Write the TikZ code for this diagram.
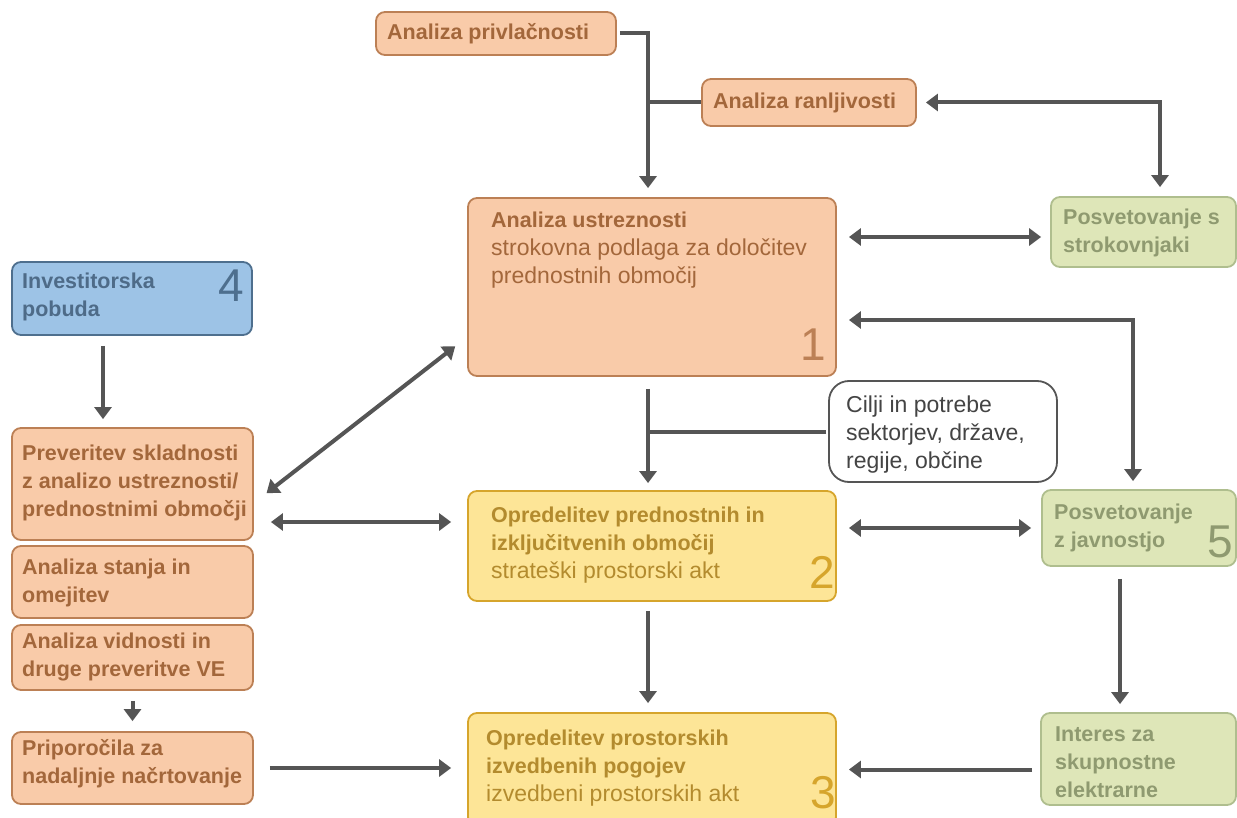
\documentclass[tikz,border=0pt]{standalone}
\usepackage{fontspec}
\setmainfont{Liberation Sans}
\usetikzlibrary{arrows.meta,calc}
\definecolor{ofill}{HTML}{F9CBA9}
\definecolor{odraw}{HTML}{BC8055}
\definecolor{otext}{HTML}{A3673B}
\definecolor{yfill}{HTML}{FDE597}
\definecolor{ydraw}{HTML}{D6A52C}
\definecolor{ytext}{HTML}{B38B2E}
\definecolor{gfill}{HTML}{DEE6B8}
\definecolor{gdraw}{HTML}{AFBE8E}
\definecolor{gtext}{HTML}{8F9A70}
\definecolor{bfill}{HTML}{9DC3E6}
\definecolor{bdraw}{HTML}{4E6F8E}
\definecolor{btext}{HTML}{4E6B88}
\definecolor{agray}{HTML}{555555}
\definecolor{ctext}{HTML}{444444}
\begin{document}
\begin{tikzpicture}[x=1pt,y=-1pt,
  box/.style={draw, rounded corners=9pt, line width=1.8pt, inner sep=0pt},
  obox/.style={box, fill=ofill, draw=odraw},
  ybox/.style={box, fill=yfill, draw=ydraw},
  gbox/.style={box, fill=gfill, draw=gdraw},
  bbox/.style={box, fill=bfill, draw=bdraw},
  cbox/.style={box, fill=white, draw=agray, rounded corners=20pt},
  lbl/.style={anchor=west, align=left, inner sep=0pt, font=\fontsize{21.5}{28}\selectfont\bfseries},
  reg/.style={anchor=west, align=left, inner sep=0pt, font=\fontsize{23}{28}\selectfont},
  num/.style={anchor=base east, inner sep=0pt, font=\fontsize{46}{46}\selectfont},
  ln/.style={draw=agray, line width=4pt},
  arr/.style={ln, -{Triangle[length=12pt,width=17pt]}},
  dbl/.style={ln, {Triangle[length=12pt,width=17pt]}-{Triangle[length=12pt,width=17pt]}}
]
\useasboundingbox (0,0) rectangle (1237,818);
\begin{scope}
\clip (0,0) rectangle (1237,818);
% boxes
\node[obox, minimum width=240pt, minimum height=43pt] (priv) at (496,33.5) {};
\node[obox, minimum width=214pt, minimum height=47pt] (ranl) at (809,102.5) {};
\node[obox, minimum width=368pt, minimum height=178pt] (box1) at (652,287) {};
\node[gbox, minimum width=185pt, minimum height=70pt] (strok) at (1143.5,232) {};
\node[bbox, minimum width=240pt, minimum height=73pt] (inv) at (132,298.5) {};
\node[obox, minimum width=241pt, minimum height=112pt] (prev) at (132.5,484) {};
\node[obox, minimum width=241pt, minimum height=72pt] (stan) at (132.5,582) {};
\node[obox, minimum width=241pt, minimum height=65pt] (vid) at (132.5,657.5) {};
\node[obox, minimum width=241pt, minimum height=72pt] (prip) at (132.5,768) {};
\node[cbox, minimum width=228pt, minimum height=101pt] (cilji) at (943,431.5) {};
\node[ybox, minimum width=368pt, minimum height=110pt] (box2) at (652,546) {};
\node[gbox, minimum width=194pt, minimum height=76pt] (javn) at (1139,528) {};
\node[ybox, minimum width=368pt, minimum height=113pt] (box3) at (652,769.5) {};
\node[gbox, minimum width=195pt, minimum height=92pt] (inter) at (1138.5,759) {};
% texts
\node[lbl, text=otext] (privT) at (387,33.5) {Analiza privlačnosti};
\node[lbl, text=otext] (ranlT) at (713,102.5) {Analiza ranljivosti};
\node[reg, text=otext] (box1T) at (491,250) {{\fontsize{21.5}{28}\selectfont\bfseries Analiza ustreznosti}\\strokovna podlaga za določitev\\prednostnih območij};
\node[lbl, text=gtext] (strokT) at (1063,233) {Posvetovanje s\\strokovnjaki};
\node[lbl, text=btext] (invT) at (22,296.5) {Investitorska\\pobuda};
\node[lbl, text=otext] (prevT) at (22,483) {Preveritev skladnosti\\z analizo ustreznosti/\\prednostnimi območji};
\node[lbl, text=otext] (stanT) at (22,583) {Analiza stanja in\\omejitev};
\node[lbl, text=otext] (vidT) at (22,657) {Analiza vidnosti in\\druge preveritve VE};
\node[lbl, text=otext] (pripT) at (22,764) {Priporočila za\\nadaljnje načrtovanje};
\node[reg, text=ctext] (ciljiT) at (846,434.5) {Cilji in potrebe\\sektorjev, države,\\regije, občine};
\node[reg, text=ytext] (box2T) at (491,545.5) {{\fontsize{21.5}{28}\selectfont\bfseries Opredelitev prednostnih in}\\{\fontsize{21.5}{28}\selectfont\bfseries izključitvenih območij}\\strateški prostorski akt};
\node[lbl, text=gtext] (javnT) at (1054,528) {Posvetovanje\\z javnostjo};
\node[reg, text=ytext] (box3T) at (486,768) {{\fontsize{21.5}{28}\selectfont\bfseries Opredelitev prostorskih}\\{\fontsize{21.5}{28}\selectfont\bfseries izvedbenih pogojev}\\izvedbeni prostorskih akt};
\node[lbl, text=gtext] (interT) at (1055,762) {Interes za\\skupnostne\\elektrarne};
% numbers
\node[num, text=odraw] (n1) at (826,360) {1};
\node[num, text=ydraw] (n2) at (835,588) {2};
\node[num, text=ydraw] (n3) at (836,808) {3};
\node[num, text=bdraw] (n4) at (244,302) {4};
\node[num, text=gtext] (n5) at (1233,557) {5};
% connectors
\coordinate (j1) at (648,102.5);
\coordinate (j2) at (648,431.5);
\draw[arr, shorten <=3pt, shorten >=9pt] (priv.east) -| ($(box1.north)+(-4,0)$);
\draw[ln] (ranl.west) -- (j1);
\draw[dbl, shorten <=9pt, shorten >=9pt] (ranl.east) -| ($(strok.north)+(16.5,0)$);
\draw[dbl, shorten <=12pt, shorten >=9pt] ($(box1.east)+(0,-50)$) -- ($(strok.west)+(0,5)$);
\draw[dbl, shorten <=12pt, shorten >=8pt] ($(box1.east)+(0,33)$) -| ($(javn.north)+(-6,0)$);
\draw[arr, shorten <=12pt, shorten >=7pt] ($(box1.south)+(-4,0)$) -- ($(box2.north)+(-4,0)$);
\draw[ln, shorten <=2pt] (cilji.west) -- (j2);
\draw[dbl, shorten <=12pt, shorten >=10pt] (box2.east |- javn.west) -- (javn.west);
\draw[arr, shorten <=9pt, shorten >=9pt] ($(box2.south)+(-4,0)$) -- ($(box3.north)+(-4,0)$);
\draw[arr, shorten <=12pt, shorten >=8pt] ($(javn.south)+(-19,0)$) -- ($(inter.north)+(-18.5,0)$);
\draw[arr, shorten <=8pt, shorten >=12pt] ($(inter.west)+(0,10.5)$) -- (box3.east);
\draw[arr, shorten <=10pt, shorten >=8pt] ($(inv.south)+(-29,0)$) -- ($(prev.north)+(-29.5,0)$);
\draw[dbl, shorten <=16pt, shorten >=15pt] ($(prev.east)+(0,19)$) -- ($(box1.west)+(0,50)$);
\draw[dbl, shorten <=17pt, shorten >=16pt] ($(prev.east)+(0,38)$) -- ($(box2.west)+(0,-24)$);
\draw[arr, shorten <=10pt, shorten >=10pt] (vid.south) -- (prip.north);
\draw[arr, shorten <=16pt, shorten >=16pt] (prip.east) -- (prip.east -| box3.west);
\end{scope}
\end{tikzpicture}
\end{document}
